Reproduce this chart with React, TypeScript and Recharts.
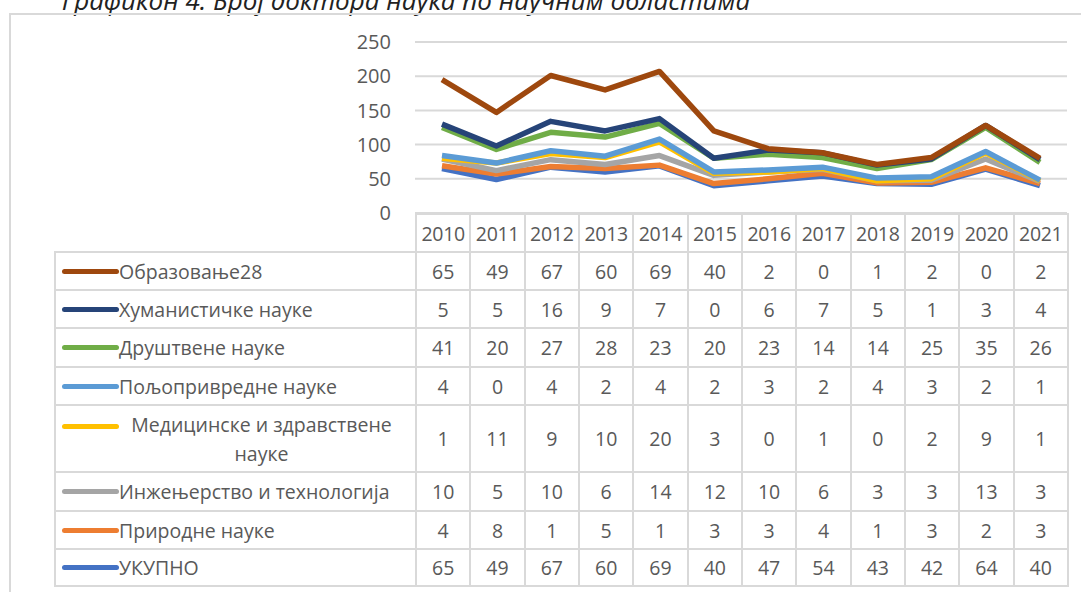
import React from 'react';
import { AreaChart, Area, XAxis, YAxis, CartesianGrid } from 'recharts';

const years = ['2010', '2011', '2012', '2013', '2014', '2015', '2016', '2017', '2018', '2019', '2020', '2021'];

const obrazovanje = [65, 49, 67, 60, 69, 40, 2, 0, 1, 2, 0, 2];
const humanisticke = [5, 5, 16, 9, 7, 0, 6, 7, 5, 1, 3, 4];
const drustvene = [41, 20, 27, 28, 23, 20, 23, 14, 14, 25, 35, 26];
const poljoprivredne = [4, 0, 4, 2, 4, 2, 3, 2, 4, 3, 2, 1];
const medicinske = [1, 11, 9, 10, 20, 3, 0, 1, 0, 2, 9, 1];
const inzenjerstvo = [10, 5, 10, 6, 14, 12, 10, 6, 3, 3, 13, 3];
const prirodne = [4, 8, 1, 5, 1, 3, 3, 4, 1, 3, 2, 3];
const ukupno = [65, 49, 67, 60, 69, 40, 47, 54, 43, 42, 64, 40];

const yTicks = [0, 50, 100, 150, 200, 250];

// table order (top to bottom)
const series = [
  { key: 'obr', name: 'Образовање28', values: obrazovanje, color: '#9E480E' },
  { key: 'hum', name: 'Хуманистичке науке', values: humanisticke, color: '#264478' },
  { key: 'dru', name: 'Друштвене науке', values: drustvene, color: '#70AD47' },
  { key: 'pol', name: 'Пољопривредне науке', values: poljoprivredne, color: '#5B9BD5' },
  { key: 'med', name: 'Медицинске и здравствене науке', values: medicinske, color: '#FFC000' },
  { key: 'inz', name: 'Инжењерство и технологија', values: inzenjerstvo, color: '#A5A5A5' },
  { key: 'pri', name: 'Природне науке', values: prirodne, color: '#ED7D31' },
  { key: 'uk', name: 'УКУПНО', values: ukupno, color: '#4472C4' },
];

const data = years.map((y, i) => {
  const row: Record<string, string | number> = { year: y };
  series.forEach((s) => (row[s.key] = s.values[i]));
  return row;
});

const FONT = '"Open Sans", sans-serif';
const TXT = '#595959';
const BORDER = '2px solid #d9d9d9';
const rowHeights = [38, 38, 39, 38, 67, 39, 38, 37];

export default function App() {
  const stackOrder = [...series].reverse();
  return (
    <div style={{ position: 'absolute', left: 0, top: 0, width: 1081, height: 592, overflow: 'hidden', background: '#fff', fontFamily: FONT }}>
      <div
        style={{
          position: 'absolute', left: 0, top: -13, width: 812, textAlign: 'center',
          fontSize: 26, lineHeight: '26px', fontStyle: 'italic', color: '#222',
        }}
      >
        Графикон 4. Број доктора наука по научним областима
      </div>
      <div style={{ position: 'absolute', left: 9, top: 13, width: 1100, height: 600, borderLeft: BORDER, borderTop: BORDER }} />

      <div style={{ position: 'absolute', left: 0, top: 0 }}>
        <AreaChart width={1081} height={240} data={data} margin={{ top: 42, right: 14, bottom: 27, left: 355 }}>
          <CartesianGrid vertical={false} stroke="#d9d9d9" strokeWidth={2} />
          <XAxis dataKey="year" hide padding={{ left: 27, right: 27 }} />
          <YAxis
            width={60}
            domain={[0, 250]}
            ticks={yTicks}
            axisLine={false}
            tickLine={false}
            tickSize={0}
            tickMargin={24}
            tick={{ fill: TXT, fontSize: 20, fontFamily: FONT }}
          />
          {stackOrder.map((s) => (
            <Area
              key={s.key}
              type="linear"
              dataKey={s.key}
              stackId="a"
              stroke={s.color}
              strokeWidth={5.5}
              strokeLinejoin="round"
              fill="none"
              fillOpacity={0}
              dot={false}
              activeDot={false}
              isAnimationActive={false}
            />
          ))}
        </AreaChart>
      </div>

      <table
        style={{
          position: 'absolute', left: 54, top: 213, borderCollapse: 'collapse', tableLayout: 'fixed',
          fontSize: 19.5, color: TXT, fontFamily: FONT,
        }}
      >
        <colgroup>
          <col style={{ width: 361 }} />
          {years.map((y) => (
            <col key={y} style={{ width: 54.33 }} />
          ))}
        </colgroup>
        <tbody>
          <tr style={{ height: 38 }}>
            <td style={{ border: 'none', borderBottom: BORDER, borderRight: BORDER }} />
            {years.map((y) => (
              <td key={y} style={{ border: BORDER, textAlign: 'center', padding: 0, letterSpacing: -0.3 }}>{y}</td>
            ))}
          </tr>
          {series.map((s, r) => (
            <tr key={s.key} style={{ height: rowHeights[r] }}>
              <td style={{ border: BORDER, padding: 0 }}>
                <div style={{ display: 'flex', alignItems: 'center' }}>
                  <span style={{ display: 'inline-block', width: 57, height: 5, borderRadius: 3, background: s.color, marginLeft: 6, flex: 'none', alignSelf: s.key === 'med' ? 'flex-start' : 'center', marginTop: s.key === 'med' ? 14 : 0 }} />
                  <span style={{ textAlign: 'center', lineHeight: '29px', width: s.key === 'med' ? 285 : undefined, whiteSpace: s.key === 'med' ? 'normal' : 'nowrap' }}>{s.name}</span>
                </div>
              </td>
              {s.values.map((v, i) => (
                <td key={i} style={{ border: BORDER, textAlign: 'center', padding: 0 }}>{v}</td>
              ))}
            </tr>
          ))}
        </tbody>
      </table>
    </div>
  );
}
